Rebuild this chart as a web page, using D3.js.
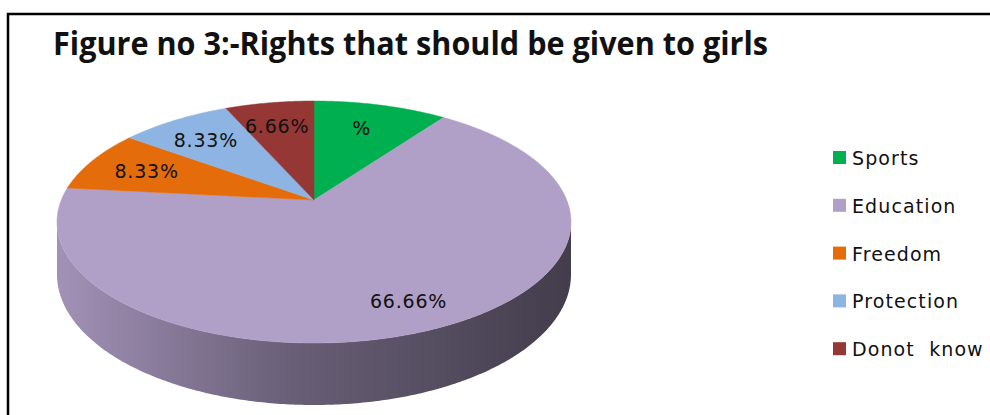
<!DOCTYPE html>
<html>
<head>
<meta charset="utf-8">
<script src="https://cdn.jsdelivr.net/npm/d3@7"></script>
<style>
  body { margin: 0; background: #fff; }
  svg { display: block; }
</style>
</head>
<body>
<div id="chart"></div>
<script>
// data
const categories = ["Sports", "Education", "Freedom", "Protection", "Donot  know"];
const values = [10, 66.66, 8.33, 8.33, 6.66];
const labels = ["%", "66.66%", "8.33%", "8.33%", "6.66%"];
const colors = ["#00b050", "#b09fc7", "#e46c0a", "#8db4e2", "#953735"];

const width = 990, height = 415;

const svg = d3.select("#chart").append("svg")
  .attr("width", width)
  .attr("height", height);

// frame
svg.append("rect")
  .attr("x", 8).attr("y", 14)
  .attr("width", 1100).attr("height", 600)
  .attr("fill", "none")
  .attr("stroke", "#000")
  .attr("stroke-width", 2.5);

// title
svg.append("text")
  .attr("x", 53).attr("y", 55)
  .attr("font-family", "'Open Sans', 'Noto Sans', sans-serif")
  .attr("font-weight", 700)
  .attr("font-size", 32)
  .attr("textLength", 715)
  .attr("lengthAdjust", "spacingAndGlyphs")
  .attr("fill", "#111")
  .text("Figure no 3:-Rights that should be given to girls");

// perspective pie: centre of disc on screen, horizontal scale, depth scale, perspective factor
const cx = 314, cy = 200;
const A = 252.7, B = 117, k = 0.182;
const H = 50.7; // thickness

function proj(theta, r, drop) {
  const X = r * Math.sin(theta), Z = r * Math.cos(theta);
  const w = 1 + k * Z;
  return [cx + A * X / w, cy + (-B * Z + (drop || 0)) / w];
}

function arcPts(a0, a1, r, drop) {
  const n = Math.max(2, Math.ceil((a1 - a0) / 0.01));
  return d3.range(n + 1).map(i => proj(a0 + (a1 - a0) * i / n, r, drop));
}

const pie = d3.pie().sort(null).value(d => d.value);
const slices = pie(categories.map((c, i) => ({ name: c, value: values[i], label: labels[i], color: colors[i] })));

const line = d3.line();
const defs = svg.append("defs");

// side walls (front half only)
const front0 = Math.acos(-k), front1 = 2 * Math.PI - Math.acos(-k);
const sides = svg.append("g").attr("class", "sides");
slices.forEach((d, i) => {
  const s = Math.max(d.startAngle, front0), e = Math.min(d.endAngle, front1);
  if (e <= s) return;
  const base = d3.color(d.data.color);
  const grad = defs.append("linearGradient")
    .attr("id", "side" + i)
    .attr("gradientUnits", "userSpaceOnUse")
    .attr("x1", cx - A).attr("x2", cx + A)
    .attr("y1", 0).attr("y2", 0);
  grad.selectAll("stop")
    .data([[0, 0.25], [0.45, 1.45], [1, 2.7]])
    .enter().append("stop")
    .attr("offset", d => d[0])
    .attr("stop-color", dd => base.darker(dd[1]).formatHex());
  const pts = arcPts(s, e, 1, 0).concat(arcPts(s, e, 1, H).reverse());
  sides.append("path")
    .attr("d", line(pts) + "Z")
    .attr("fill", "url(#side" + i + ")");
});

// top face
svg.append("g").attr("class", "top")
  .selectAll("path")
  .data(slices)
  .enter().append("path")
  .attr("d", d => line([[cx, cy]].concat(arcPts(d.startAngle, d.endAngle, 1, 0))) + "Z")
  .attr("fill", d => d.data.color)
  .attr("stroke", d => d.data.color)
  .attr("stroke-width", 0.5);

// data labels
svg.append("g").attr("class", "labels")
  .selectAll("text")
  .data(slices)
  .enter().append("text")
  .attr("transform", d => {
    const r = d.data.value > 50 ? 0.82 : 0.73;
    const p = proj((d.startAngle + d.endAngle) / 2, r, 0);
    return `translate(${p[0] - 3},${p[1] + 7})`;
  })
  .attr("text-anchor", "middle")
  .attr("font-family", "'DejaVu Sans', Verdana, sans-serif")
  .attr("font-size", 19)
  .attr("letter-spacing", 0.8)
  .attr("fill", "#111")
  .text(d => d.data.label);

// legend
const legend = svg.append("g").attr("class", "legend")
  .attr("transform", "translate(833,151)");

const rows = legend.selectAll("g")
  .data(categories)
  .enter().append("g")
  .attr("transform", (d, i) => `translate(0,${i * 47.8})`);

rows.append("rect")
  .attr("width", 13).attr("height", 13)
  .attr("fill", (d, i) => colors[i]);

rows.append("text")
  .attr("x", 19).attr("y", 14)
  .attr("font-family", "'DejaVu Sans', Verdana, sans-serif")
  .attr("font-size", 19)
  .attr("letter-spacing", 1.1)
  .attr("xml:space", "preserve")
  .attr("fill", "#111")
  .text(d => d);
</script>
</body>
</html>
